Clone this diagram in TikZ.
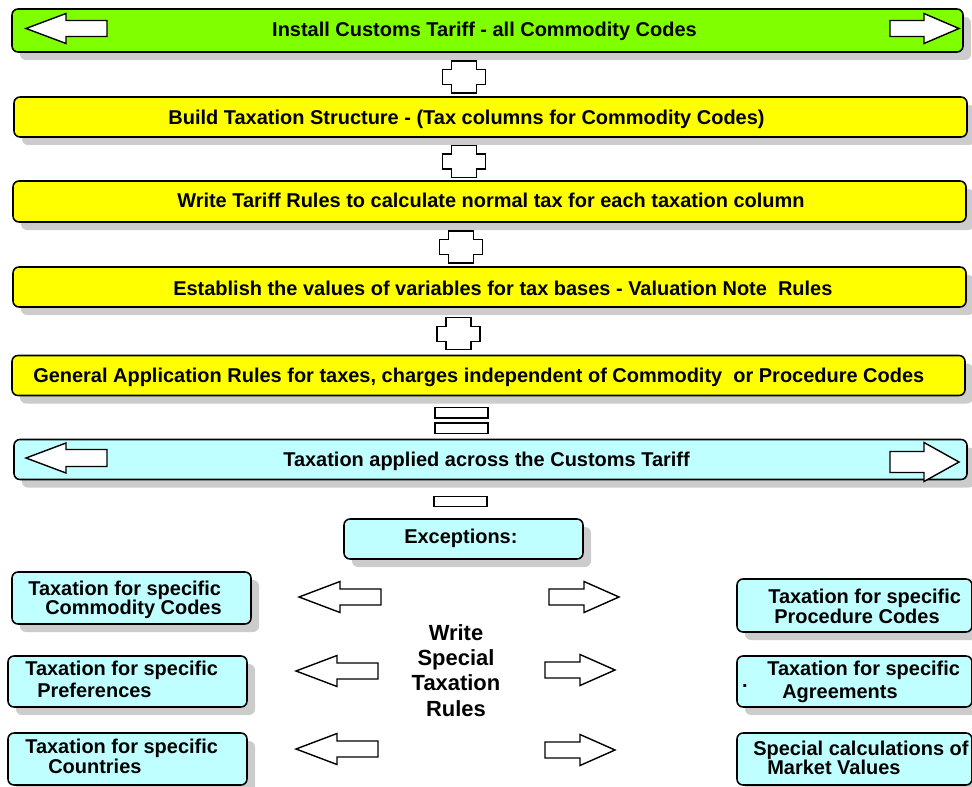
\documentclass[tikz,border=0pt]{standalone}
\usepackage{fontspec}
\setmainfont{Liberation Sans}
\usetikzlibrary{shadows,calc}

\definecolor{tariffgreen}{HTML}{80FF00}
\definecolor{ruleyellow}{HTML}{FFFF00}
\definecolor{applycyan}{HTML}{C0FFFF}

% one pixel of the layout
\newdimen\pxunit \pxunit=0.025cm

\tikzset{
  tierbox/.style={draw, line width=1.1pt, rounded corners=0.15cm, inner sep=0pt,
    general shadow={fill=black!20, shadow xshift=0.2cm, shadow yshift=-0.2cm}},
  widebox/.style={tierbox, minimum width=953\pxunit, minimum height=40\pxunit},
  sidebox/.style={tierbox, fill=applycyan, minimum width=239\pxunit, minimum height=52\pxunit},
  tiertext/.style={inner sep=0pt, align=left,
    font=\fontsize{14.2}{14.2}\selectfont\bfseries},
  writetext/.style={inner sep=0pt, align=center,
    font=\fontsize{15.6}{17.8}\selectfont\bfseries},
  glyph/.style={draw, fill=white, line width=1pt},
  plusjoin/.pic={
    \draw[glyph] (-12.5,-16) -- (12.5,-16) -- (12.5,-7.5) -- (21.5,-7.5) -- (21.5,7.5)
      -- (12.5,7.5) -- (12.5,16) -- (-12.5,16) -- (-12.5,7.5) -- (-21.5,7.5)
      -- (-21.5,-7.5) -- (-12.5,-7.5) -- cycle;},
  twinbars/.pic={
    \draw[glyph] (-26.5,-13) rectangle (26.5,-2.5);
    \draw[glyph] (-26.5,2.5) rectangle (26.5,13);},
  onebar/.pic={\draw[glyph] (-26.5,-5) rectangle (26.5,5);}
}

% block arrow: tip x, mid y, head length, total length, head half, shaft half
\newcommand{\blockarrow}[6]{%
  \draw[glyph] (#1,#2) -- ++(#3,-#5) -- ++(0,{(#5)-(#6)}) -- ++({(#4)-(#3)},0)
    -- ++(0,{2*(#6)}) -- ++({(#3)-(#4)},0) -- ++(0,{(#5)-(#6)}) -- cycle;}

\begin{document}
\lineskiplimit=-20pt
\begin{tikzpicture}[x=0.025cm, y=-0.025cm]
  \useasboundingbox (0,0) rectangle (972,787);

  % tariff and the tiers of rules
  \node[tierbox, fill=tariffgreen, minimum width=951\pxunit, minimum height=43\pxunit] (b1) at (487.5,30.5) {};
  \node[widebox, fill=ruleyellow] (b2) at (490.5,117) {};
  \node[widebox, fill=ruleyellow, minimum height=41\pxunit] (b3) at (489.5,201.5) {};
  \node[widebox, fill=ruleyellow] (b4) at (489.5,287) {};
  \node[widebox, fill=ruleyellow] (b5) at (488.5,375.5) {};
  \node[widebox, fill=applycyan] (b6) at (490.5,459.5) {};

  \node[tiertext, anchor=base] (t1) at (484.5,37) {Install Customs Tariff - all Commodity Codes};
  \node[tiertext, anchor=base] (t2) at (466.5,125) {Build Taxation Structure - (Tax columns for Commodity Codes)};
  \node[tiertext, anchor=base west] (t3) at (177,208) {Write Tariff Rules to calculate normal tax for each taxation column};
  \node[tiertext, anchor=base west] (t4) at (173,295) {Establish the values of variables for tax bases - Valuation Note\ \ Rules};
  \node[tiertext, anchor=base west] (t5) at (33,382) {General Application Rules for taxes, charges independent of Commodity\ \ or Procedure Codes};
  \node[tiertext, anchor=base west] (t6) at (283,466) {Taxation applied across the Customs Tariff};

  % arrows inside the green and cyan bars
  \blockarrow{26}{28.5}{40}{81}{15}{8}
  \blockarrow{959}{28.5}{-35}{-69}{15}{8}
  \blockarrow{26}{458}{40}{81}{15}{8.5}
  \blockarrow{959}{462}{-35}{-69}{19.5}{10.5}

  % joins between the tiers
  \foreach \a/\b/\dx in {b1/b2/-25, b2/b3/-26, b3/b4/-28.5, b4/b5/-30.5}
    \pic at ($(\a.south)!0.5!(\b.north)+(\dx,2.5)$) {plusjoin};
  \pic at ($(b5.south)!0.5!(b6.north)+(-28,3)$) {twinbars};

  % exceptions
  \node[tierbox, fill=applycyan, minimum width=239\pxunit, minimum height=40\pxunit] (exc) at (463.5,539) {};
  \node[tiertext, anchor=base west] (exct) at (404,543) {Exceptions:};
  \pic at ($(b6.south)!0.5!(exc.north)+(-16.5,2.5)$) {onebar};

  % special cases, left (base = last line)
  \node[sidebox] (l1) at (131.5,598) {};
  \node[sidebox, minimum height=51\pxunit] (l2) at (127.5,681.5) {};
  \node[sidebox] (l3) at (127.5,759) {};
  \node[tiertext, anchor=base west] (l1t) at (28,614) {Taxation for specific\\[-1\pxunit]\hspace*{17\pxunit}Commodity Codes};
  \node[tiertext, anchor=base west] (l2t) at (25,697) {Taxation for specific\\[2\pxunit]\hspace*{12\pxunit}Preferences};
  \node[tiertext, anchor=base west] (l3t) at (25,773) {Taxation for specific\\\hspace*{23\pxunit}Countries};

  % special cases, right
  \node[sidebox, minimum width=235\pxunit, minimum height=53\pxunit] (r1) at (854.5,605.5) {};
  \node[sidebox, minimum width=235\pxunit, minimum height=51\pxunit] (r2) at (854.5,681.5) {};
  \node[sidebox, minimum width=235\pxunit] (r3) at (854.5,759) {};
  \node[tiertext, anchor=base west] (r1t) at (768,623) {Taxation for specific\\\hspace*{6\pxunit}Procedure Codes};
  \node[tiertext, anchor=base west] (r2t) at (767,698) {Taxation for specific\\[3\pxunit]\hspace*{15\pxunit}Agreements};
  \node[tiertext, anchor=base] (r2dot) at (745,687) {.};
  \node[tiertext, anchor=base west] (r3t) at (753,774) {Special calculations of\\[-1\pxunit]\hspace*{14\pxunit}Market Values};

  % write special taxation rules
  \node[writetext, anchor=base] (write) at (456,716) {Write\\Special\\Taxation\\Rules};
  \foreach \ty/\tx in {597/299, 671/296, 749/296}
    {\blockarrow{\tx}{\ty}{41}{82}{15.5}{8}}
  \foreach \ty/\tx in {597/619, 670/615, 750/615}
    {\blockarrow{\tx}{\ty}{-35}{-70}{15.5}{8}}
\end{tikzpicture}
\end{document}
